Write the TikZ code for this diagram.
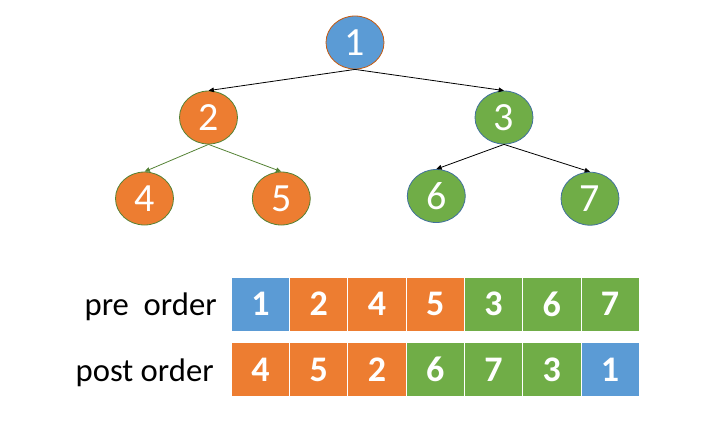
\documentclass[tikz,border=0pt]{standalone}
\usepackage{fontspec}
\setmainfont{Carlito}
\definecolor{nodeblue}{RGB}{91,155,213}
\definecolor{nodeorange}{RGB}{237,125,49}
\definecolor{nodegreen}{RGB}{112,173,71}
\definecolor{rimblue}{RGB}{65,113,156}
\definecolor{rimorange}{RGB}{197,90,17}
\definecolor{rimgreen}{RGB}{84,130,53}
\usetikzlibrary{shapes.geometric,arrows.meta,positioning}

\begin{document}
\begin{tikzpicture}[x=0.75pt, y=-0.75pt,
			tnode/.style={ellipse, minimum width=43.5pt, minimum height=39.75pt,
				inner sep=0pt, line width=0.6pt, text=white,
				font=\fontsize{30}{36}\selectfont},
			cell/.style={draw=white, line width=0.6pt, minimum width=43.7pt,
				minimum height=40.5pt, inner sep=0pt, outer sep=0pt, text=white,
				font=\fontsize{27}{32}\selectfont\bfseries},
			arrow/.style={-{Triangle[length=4pt, width=3.5pt]}, line width=0.6pt},
			lab/.style={font=\fontsize{24.5}{30}\selectfont, inner sep=0pt, anchor=base east}
		]
			\useasboundingbox (0,0) rectangle (705,426);
			% tree
			\node[tnode, fill=nodeblue, draw=rimorange] (n1) at (355,42.5) {1};
			\node[tnode, fill=nodeorange, draw=rimgreen] (n2) at (208.5,117.5) {2};
			\node[tnode, fill=nodegreen, draw=rimblue] (n3) at (504,117.5) {3};
			\node[tnode, fill=nodeorange, draw=rimgreen] (n4) at (144.5,198.5) {4};
			\node[tnode, fill=nodeorange, draw=rimgreen] (n5) at (281.3,198.5) {5};
			\node[tnode, fill=nodegreen, draw=rimblue] (n6) at (436.3,196) {6};
			\node[tnode, fill=nodegreen, draw=rimblue] (n7) at (590,198.7) {7};
			\draw[arrow] (n1.south) -- (n2.north);
			\draw[arrow] (n1.south) -- (n3.north);
			\draw[arrow, rimgreen] (n2.south) -- (n4.north);
			\draw[arrow, rimgreen] (n2.south) -- (n5.north);
			\draw[arrow] (n3.south) -- (n6.north);
			\draw[arrow] (n3.south) -- (n7.north);
			% pre order
			\node[cell, fill=nodeblue] (pre1) at (260.45,304) {1};
			\node[cell, fill=nodeorange, right=0pt of pre1] (pre2) {2};
			\node[cell, fill=nodeorange, right=0pt of pre2] (pre3) {4};
			\node[cell, fill=nodeorange, right=0pt of pre3] (pre4) {5};
			\node[cell, fill=nodegreen, right=0pt of pre4] (pre5) {3};
			\node[cell, fill=nodegreen, right=0pt of pre5] (pre6) {6};
			\node[cell, fill=nodegreen, right=0pt of pre6] (pre7) {7};
			% post order
			\node[cell, fill=nodeorange] (post1) at (260.45,369.5) {4};
			\node[cell, fill=nodeorange, right=0pt of post1] (post2) {5};
			\node[cell, fill=nodeorange, right=0pt of post2] (post3) {2};
			\node[cell, fill=nodegreen, right=0pt of post3] (post4) {6};
			\node[cell, fill=nodegreen, right=0pt of post4] (post5) {7};
			\node[cell, fill=nodegreen, right=0pt of post5] (post6) {3};
			\node[cell, fill=nodeblue, right=0pt of post6] (post7) {1};
			\node[lab] (prelab) at (217,315.5) {pre\ \ order};
			\node[lab] (postlab) at (214,381) {post order};
		\end{tikzpicture}
\end{document}
